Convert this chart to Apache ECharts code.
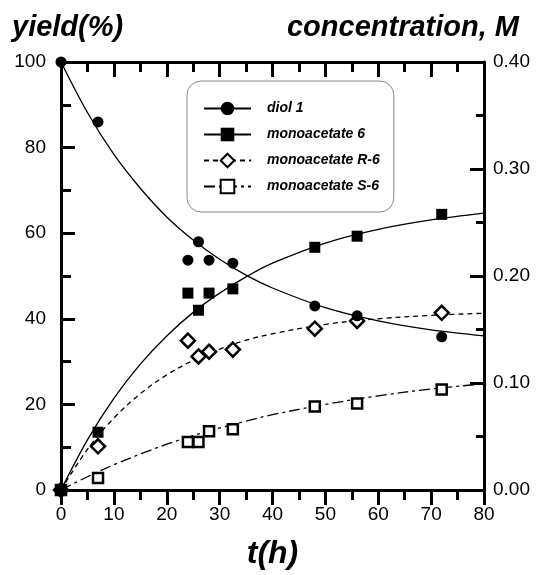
<!DOCTYPE html>
<html>
<head>
<meta charset="utf-8">
<script src="https://cdn.jsdelivr.net/npm/echarts@6.0.0/dist/echarts.min.js"></script>
<style>
  html, body { margin: 0; padding: 0; background: #fff; }
  #chart { width: 541px; height: 575px; }
</style>
</head>
<body>
<div id="chart"></div>
<script>
// measured points
const times = [0, 7, 24, 26, 28, 32.5, 48, 56, 72];
const diol = [100, 86, 53.7, 58, 53.7, 53, 43, 40.7, 35.8];
const mono6 = [0, 13.5, 46, 42, 46, 47, 56.7, 59.3, 64.4];
const monoR6 = [0, 10.2, 34.9, 31.2, 32.3, 32.8, 37.7, 39.5, 41.4];
const monoS6 = [0, 2.8, 11.2, 11.2, 13.7, 14.2, 19.5, 20.2, 23.5];

// fitted curves
const fitT = [0, 5, 10, 15, 20, 25, 30, 35, 40, 50, 60, 70, 80];
const diolFit = [100, 88.2, 78.4, 70.5, 63.8, 58.4, 53.9, 50.2, 47.2, 42.6, 39.5, 37.4, 36.0];
const mono6Fit = [0, 11.7, 21.4, 29.4, 36.0, 41.5, 46.0, 49.8, 53.0, 57.7, 60.9, 63.1, 64.7];
const monoR6Fit = [0, 9.5, 16.8, 22.5, 26.9, 30.3, 32.9, 35.0, 36.5, 38.7, 40.0, 40.8, 41.3];
const monoS6Fit = [0, 3.1, 5.9, 8.4, 10.7, 12.7, 14.5, 16.1, 17.6, 20.0, 22.0, 23.6, 24.8];

const names = ['diol 1', 'monoacetate 6', 'monoacetate R-6', 'monoacetate S-6'];

const pair = (xs, ys) => xs.map((x, i) => [x, ys[i]]);

const font = 'Liberation Sans, Arial, sans-serif';

const styles = [
  { symbol: 'circle', size: 11, z: 5, item: { color: '#000', opacity: 1 }, line: 'solid' },
  { symbol: 'rect', size: 11, z: 4, item: { color: '#000', opacity: 1 }, line: 'solid' },
  { symbol: 'diamond', size: 14, z: 3, item: { color: '#fff', borderColor: '#000', borderWidth: 2.5, opacity: 1 }, line: [5, 4] },
  { symbol: 'rect', size: 10, z: 3, item: { color: '#fff', borderColor: '#000', borderWidth: 2.5, opacity: 1 }, line: [11, 4, 3, 4] }
];
const points = [diol, mono6, monoR6, monoS6];
const fits = [diolFit, mono6Fit, monoR6Fit, monoS6Fit];

let series = [];
names.forEach((n, i) => {
  series.push({
    name: n,
    type: 'line',
    data: pair(fitT, fits[i]),
    smooth: 0.35,
    showSymbol: false,
    symbol: styles[i].symbol,
    itemStyle: styles[i].item,
    lineStyle: { color: '#000', width: 1.3, type: styles[i].line },
    silent: true,
    z: 2
  });
});
names.forEach((n, i) => {
  series.push({
    name: n,
    type: 'scatter',
    data: pair(times, points[i]),
    symbol: styles[i].symbol,
    symbolSize: styles[i].size,
    itemStyle: styles[i].item,
    z: styles[i].z
  });
});

const axisLine = { show: true, onZero: false, lineStyle: { color: '#000', width: 3 } };

let myChart = echarts.init(document.getElementById('chart'));
let option = {
  backgroundColor: '#fff',
  animation: false,
  title: [{
    text: 'yield(%)',
    left: 7,
    top: 8,
    textStyle: { fontFamily: font, fontSize: 29, fontWeight: 'bold', fontStyle: 'italic', color: '#000' }
  }, {
    text: 'concentration, M',
    right: 17,
    top: 8,
    textStyle: { fontFamily: font, fontSize: 29, fontWeight: 'bold', fontStyle: 'italic', color: '#000' }
  }],
  legend: {
    orient: 'vertical',
    left: 187,
    top: 81,
    data: names,
    itemWidth: 47,
    itemHeight: 17,
    itemGap: 9,
    padding: [19, 14, 17, 16],
    borderColor: '#888',
    borderWidth: 1,
    borderRadius: 14,
    textStyle: {
      fontFamily: font, fontSize: 14, fontWeight: 'bold', fontStyle: 'italic', color: '#000',
      padding: [0, 0, 0, 11], lineHeight: 17
    }
  },
  grid: { left: 61, right: 57, top: 62, bottom: 83, containLabel: false },
  xAxis: [{
    type: 'value',
    min: 0, max: 80, interval: 10,
    position: 'bottom',
    name: 't(h)',
    nameLocation: 'middle',
    nameGap: 48,
    nameTextStyle: { fontFamily: font, fontSize: 32, fontWeight: 'bold', fontStyle: 'italic', color: '#000' },
    axisLine: axisLine,
    axisTick: { show: true, inside: false, length: 15, lineStyle: { color: '#000', width: 3 } },
    minorTick: { show: true, splitNumber: 2, length: 10, lineStyle: { color: '#000', width: 3 } },
    axisLabel: { fontFamily: font, fontSize: 19, color: '#000', margin: 15 },
    splitLine: { show: false }
  }, {
    type: 'value',
    min: 0, max: 80, interval: 10,
    position: 'top',
    axisLine: axisLine,
    axisTick: { show: true, inside: true, length: 15, lineStyle: { color: '#000', width: 3 } },
    minorTick: { show: true, splitNumber: 2, length: 10, lineStyle: { color: '#000', width: 3 } },
    axisLabel: { show: false },
    splitLine: { show: false }
  }],
  yAxis: [{
    type: 'value',
    min: 0, max: 100, interval: 20,
    position: 'left',
    axisLine: axisLine,
    axisTick: { show: true, inside: true, length: 14, lineStyle: { color: '#000', width: 3 } },
    minorTick: { show: true, splitNumber: 2, length: 10, lineStyle: { color: '#000', width: 3 } },
    axisLabel: { fontFamily: font, fontSize: 19, color: '#000', margin: 15 },
    splitLine: { show: false }
  }, {
    type: 'value',
    min: 0, max: 0.4, interval: 0.1,
    position: 'right',
    axisLine: axisLine,
    axisTick: { show: true, inside: true, length: 14, lineStyle: { color: '#000', width: 3 } },
    minorTick: { show: true, splitNumber: 2, length: 8, lineStyle: { color: '#000', width: 3 } },
    axisLabel: { fontFamily: font, fontSize: 19, color: '#000', margin: 9, formatter: (v) => v.toFixed(2) },
    splitLine: { show: false }
  }],
  series: series
};
myChart.setOption(option);
</script>
</body>
</html>
